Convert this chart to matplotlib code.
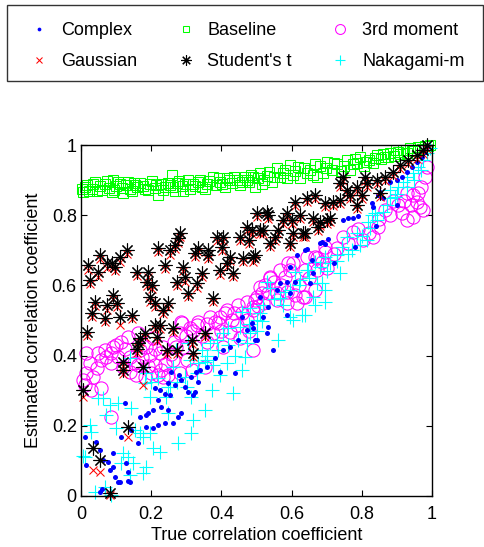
import matplotlib
matplotlib.use("Agg")
import matplotlib.pyplot as plt
from matplotlib.patches import Rectangle

plt.rcParams['font.family'] = ['Liberation Sans', 'DejaVu Sans']
plt.rcParams['font.size'] = 13

# estimates, grouped by estimator
complex_x = [0.011, 0.014, 0.043, 0.054, 0.054, 0.060, 0.063, 0.077, 0.083, 0.091,
             0.091, 0.097, 0.105, 0.110, 0.114, 0.125, 0.128, 0.134, 0.134, 0.140,
             0.142, 0.162, 0.168, 0.185, 0.185, 0.192, 0.205, 0.205, 0.211, 0.219,
             0.219, 0.225, 0.228, 0.239, 0.239, 0.248, 0.248, 0.254, 0.256, 0.262,
             0.268, 0.276, 0.279, 0.285, 0.285, 0.296, 0.305, 0.313, 0.319, 0.325,
             0.328, 0.333, 0.339, 0.359, 0.382, 0.396, 0.405, 0.424, 0.439, 0.447,
             0.459, 0.473, 0.487, 0.490, 0.496, 0.501, 0.510, 0.519, 0.530, 0.533,
             0.533, 0.547, 0.558, 0.567, 0.587, 0.587, 0.595, 0.595, 0.610, 0.615,
             0.638, 0.644, 0.652, 0.658, 0.661, 0.681, 0.687, 0.695, 0.704, 0.746,
             0.761, 0.775, 0.789, 0.829, 0.832, 0.846, 0.852, 0.860, 0.880, 0.900,
             0.915, 0.929, 0.943, 0.957, 0.971, 0.980, 0.986, 0.720, 0.780, 0.840,
             0.900]
complex_y = [0.168, 0.088, 0.154, 0.131, 0.011, 0.020, 0.103, 0.097, 0.074, 0.083,
             0.122, 0.054, 0.040, 0.040, 0.168, 0.265, 0.094, 0.068, 0.043, 0.040,
             0.188, 0.151, 0.225, 0.231, 0.197, 0.236, 0.245, 0.194, 0.308, 0.274,
             0.202, 0.302, 0.254, 0.208, 0.291, 0.245, 0.322, 0.288, 0.353, 0.208,
             0.316, 0.225, 0.345, 0.236, 0.330, 0.310, 0.296, 0.339, 0.288, 0.296,
             0.353, 0.325, 0.359, 0.368, 0.393, 0.353, 0.416, 0.424, 0.350, 0.444,
             0.510, 0.473, 0.493, 0.479, 0.444, 0.444, 0.567, 0.510, 0.464, 0.538,
             0.481, 0.416, 0.587, 0.607, 0.610, 0.516, 0.578, 0.652, 0.610, 0.687,
             0.700, 0.704, 0.607, 0.672, 0.635, 0.720, 0.724, 0.718, 0.732, 0.786,
             0.792, 0.792, 0.798, 0.835, 0.823, 0.858, 0.866, 0.850, 0.895, 0.900,
             0.909, 0.923, 0.937, 0.952, 0.966, 0.980, 0.994, 0.665, 0.710, 0.770,
             0.830]

baseline_x = [0.006, 0.010, 0.017, 0.030, 0.040, 0.045, 0.054, 0.068, 0.080, 0.088,
              0.091, 0.100, 0.111, 0.120, 0.128, 0.140, 0.150, 0.160, 0.177, 0.190,
              0.197, 0.210, 0.219, 0.228, 0.240, 0.254, 0.259, 0.268, 0.273, 0.287,
              0.296, 0.310, 0.319, 0.333, 0.345, 0.359, 0.376, 0.385, 0.396, 0.410,
              0.416, 0.430, 0.444, 0.453, 0.467, 0.480, 0.490, 0.496, 0.510, 0.520,
              0.530, 0.544, 0.558, 0.566, 0.575, 0.587, 0.595, 0.610, 0.624, 0.635,
              0.652, 0.661, 0.672, 0.681, 0.690, 0.700, 0.715, 0.729, 0.740, 0.758,
              0.766, 0.775, 0.786, 0.795, 0.806, 0.820, 0.832, 0.843, 0.855, 0.866,
              0.880, 0.892, 0.903, 0.917, 0.929, 0.937, 0.950, 0.960, 0.972, 0.980,
              0.994, 0.003, 0.022, 0.035, 0.060, 0.073, 0.095, 0.105, 0.118, 0.133,
              0.145, 0.155, 0.168, 0.183, 0.202, 0.215, 0.233, 0.247, 0.263, 0.280,
              0.292, 0.305, 0.326, 0.340, 0.352, 0.366, 0.392, 0.403, 0.423, 0.437,
              0.460, 0.474, 0.485, 0.503, 0.515, 0.537, 0.550, 0.580, 0.603, 0.617,
              0.645, 0.667, 0.697, 0.722, 0.750, 0.780, 0.812, 0.838, 0.860, 0.875,
              0.897, 0.910, 0.943, 0.966, 0.988]
baseline_y = [0.866, 0.880, 0.886, 0.875, 0.895, 0.870, 0.884, 0.888, 0.878, 0.866,
              0.900, 0.882, 0.889, 0.863, 0.885, 0.876, 0.892, 0.880, 0.884, 0.872,
              0.889, 0.878, 0.858, 0.888, 0.880, 0.886, 0.915, 0.870, 0.893, 0.882,
              0.890, 0.876, 0.889, 0.895, 0.880, 0.889, 0.909, 0.885, 0.895, 0.880,
              0.905, 0.892, 0.900, 0.885, 0.910, 0.896, 0.909, 0.880, 0.920, 0.900,
              0.912, 0.895, 0.934, 0.910, 0.920, 0.905, 0.943, 0.925, 0.906, 0.935,
              0.929, 0.915, 0.909, 0.940, 0.920, 0.952, 0.930, 0.945, 0.925, 0.957,
              0.929, 0.945, 0.950, 0.966, 0.940, 0.958, 0.950, 0.972, 0.960, 0.966,
              0.977, 0.968, 0.980, 0.986, 0.978, 0.991, 0.986, 0.993, 0.990, 0.996,
              1.000, 0.875, 0.870, 0.890, 0.872, 0.897, 0.872, 0.895, 0.878, 0.895,
              0.868, 0.885, 0.893, 0.875, 0.897, 0.885, 0.872, 0.893, 0.880, 0.897,
              0.870, 0.900, 0.884, 0.900, 0.875, 0.897, 0.905, 0.890, 0.900, 0.910,
              0.895, 0.900, 0.915, 0.905, 0.890, 0.922, 0.910, 0.930, 0.915, 0.938,
              0.920, 0.945, 0.935, 0.950, 0.940, 0.960, 0.952, 0.962, 0.975, 0.965,
              0.985, 0.975, 0.982, 0.995, 0.998]

moment_x = [0.011, 0.028, 0.057, 0.014, 0.026, 0.014, 0.048, 0.057, 0.068, 0.085,
            0.085, 0.091, 0.114, 0.140, 0.120, 0.140, 0.157, 0.162, 0.182, 0.199,
            0.219, 0.234, 0.248, 0.211, 0.240, 0.168, 0.185, 0.197, 0.225, 0.234,
            0.134, 0.162, 0.205, 0.271, 0.285, 0.085, 0.333, 0.310, 0.367, 0.390,
            0.410, 0.444, 0.453, 0.424, 0.473, 0.490, 0.376, 0.359, 0.291, 0.262,
            0.282, 0.288, 0.330, 0.382, 0.396, 0.416, 0.447, 0.473, 0.516, 0.538,
            0.558, 0.587, 0.610, 0.638, 0.604, 0.644, 0.672, 0.695, 0.430, 0.501,
            0.490, 0.316, 0.302, 0.353, 0.282, 0.405, 0.986, 0.980, 0.966, 0.974,
            0.957, 0.960, 0.946, 0.929, 0.903, 0.914, 0.946, 0.929, 0.866, 0.846,
            0.832, 0.803, 0.775, 0.746, 0.729, 0.695, 0.667, 0.687, 0.638, 0.590,
            0.595, 0.672, 0.567, 0.538, 0.510, 0.533, 0.519, 0.558, 0.587, 0.615,
            0.632, 0.667, 0.496, 0.490, 0.005, 0.035, 0.045, 0.070, 0.100, 0.105,
            0.125, 0.150, 0.175, 0.190, 0.210, 0.228, 0.255, 0.265, 0.300, 0.320,
            0.345, 0.360, 0.400, 0.435, 0.460, 0.480, 0.505, 0.525, 0.550, 0.570,
            0.580, 0.620, 0.650, 0.700, 0.720, 0.760, 0.790, 0.820, 0.850, 0.880,
            0.890, 0.920, 0.940, 0.970]
moment_y = [0.316, 0.302, 0.308, 0.350, 0.379, 0.407, 0.407, 0.387, 0.416, 0.407,
            0.379, 0.424, 0.439, 0.396, 0.368, 0.353, 0.345, 0.373, 0.339, 0.350,
            0.345, 0.339, 0.345, 0.373, 0.375, 0.416, 0.424, 0.402, 0.407, 0.424,
            0.453, 0.464, 0.450, 0.424, 0.496, 0.225, 0.496, 0.479, 0.510, 0.493,
            0.521, 0.487, 0.450, 0.467, 0.501, 0.538, 0.464, 0.439, 0.424, 0.387,
            0.464, 0.493, 0.487, 0.496, 0.510, 0.530, 0.544, 0.553, 0.578, 0.621,
            0.578, 0.581, 0.573, 0.567, 0.664, 0.681, 0.678, 0.695, 0.501, 0.567,
            0.416, 0.359, 0.387, 0.368, 0.350, 0.424, 0.937, 0.909, 0.823, 0.815,
            0.838, 0.863, 0.858, 0.863, 0.829, 0.806, 0.795, 0.786, 0.815, 0.766,
            0.738, 0.729, 0.752, 0.738, 0.707, 0.709, 0.681, 0.667, 0.644, 0.664,
            0.644, 0.644, 0.644, 0.624, 0.595, 0.578, 0.550, 0.558, 0.550, 0.550,
            0.567, 0.587, 0.558, 0.530, 0.330, 0.340, 0.365, 0.395, 0.430, 0.395,
            0.420, 0.380, 0.395, 0.370, 0.420, 0.360, 0.405, 0.440, 0.455, 0.470,
            0.455, 0.490, 0.470, 0.520, 0.520, 0.470, 0.540, 0.600, 0.610, 0.600,
            0.625, 0.600, 0.620, 0.650, 0.690, 0.720, 0.760, 0.750, 0.790, 0.800,
            0.840, 0.840, 0.830, 0.880]

student_x = [0.020, 0.026, 0.048, 0.054, 0.074, 0.088, 0.097, 0.111, 0.131, 0.160,
             0.191, 0.188, 0.202, 0.197, 0.211, 0.234, 0.248, 0.219, 0.239, 0.254,
             0.268, 0.276, 0.282, 0.273, 0.290, 0.296, 0.305, 0.325, 0.333, 0.330,
             0.345, 0.362, 0.362, 0.387, 0.405, 0.402, 0.396, 0.416, 0.424, 0.433,
             0.453, 0.462, 0.473, 0.487, 0.496, 0.501, 0.518, 0.530, 0.376, 0.040,
             0.091, 0.074, 0.103, 0.031, 0.111, 0.145, 0.017, 0.068, 0.120, 0.120,
             0.162, 0.168, 0.182, 0.177, 0.160, 0.210, 0.225, 0.216, 0.245, 0.262,
             0.273, 0.316, 0.319, 0.353, 0.006, 0.134, 0.034, 0.054, 0.083, 0.533,
             0.575, 0.587, 0.553, 0.510, 0.480, 0.538, 0.595, 0.632, 0.490, 0.560,
             0.601, 0.604, 0.610, 0.624, 0.638, 0.644, 0.661, 0.667, 0.675, 0.681,
             0.695, 0.700, 0.709, 0.718, 0.738, 0.738, 0.746, 0.758, 0.766, 0.786,
             0.786, 0.800, 0.809, 0.815, 0.843, 0.852, 0.866, 0.889, 0.909, 0.932,
             0.957, 0.974, 0.986]
student_y = [0.658, 0.615, 0.638, 0.687, 0.664, 0.664, 0.652, 0.681, 0.700, 0.638,
             0.638, 0.610, 0.601, 0.567, 0.550, 0.530, 0.550, 0.707, 0.658, 0.700,
             0.715, 0.735, 0.749, 0.610, 0.652, 0.624, 0.578, 0.692, 0.707, 0.607,
             0.635, 0.700, 0.687, 0.738, 0.738, 0.709, 0.644, 0.664, 0.681, 0.635,
             0.738, 0.678, 0.766, 0.758, 0.687, 0.806, 0.758, 0.809, 0.564, 0.553,
             0.573, 0.544, 0.550, 0.521, 0.510, 0.516, 0.467, 0.507, 0.382, 0.359,
             0.436, 0.450, 0.464, 0.368, 0.420, 0.487, 0.487, 0.453, 0.416, 0.478,
             0.416, 0.444, 0.407, 0.464, 0.302, 0.197, 0.137, 0.103, 0.008, 0.800,
             0.786, 0.806, 0.738, 0.758, 0.729, 0.720, 0.720, 0.749, 0.680, 0.758,
             0.786, 0.749, 0.838, 0.800, 0.749, 0.849, 0.792, 0.858, 0.766, 0.781,
             0.835, 0.786, 0.792, 0.838, 0.892, 0.843, 0.909, 0.872, 0.858, 0.880,
             0.829, 0.858, 0.909, 0.892, 0.900, 0.863, 0.909, 0.923, 0.943, 0.957,
             0.972, 0.986, 1.000]

# Gaussian estimates sit just under the Student's t ones (same true values)
gauss_x = student_x
gauss_y = [0.645, 0.603, 0.625, 0.676, 0.650, 0.653, 0.640, 0.668, 0.689, 0.626,
           0.625, 0.598, 0.590, 0.554, 0.538, 0.519, 0.537, 0.695, 0.646, 0.688,
           0.703, 0.722, 0.738, 0.598, 0.640, 0.611, 0.566, 0.680, 0.695, 0.594,
           0.623, 0.688, 0.674, 0.726, 0.727, 0.697, 0.631, 0.652, 0.669, 0.623,
           0.726, 0.666, 0.754, 0.746, 0.675, 0.794, 0.746, 0.797, 0.552, 0.541,
           0.561, 0.531, 0.538, 0.509, 0.487, 0.504, 0.455, 0.495, 0.370, 0.347,
           0.424, 0.438, 0.452, 0.316, 0.408, 0.475, 0.475, 0.441, 0.404, 0.466,
           0.404, 0.432, 0.395, 0.452, 0.282, 0.168, 0.074, 0.068, 0.004, 0.788,
           0.774, 0.794, 0.726, 0.746, 0.717, 0.708, 0.708, 0.737, 0.668, 0.746,
           0.774, 0.737, 0.826, 0.788, 0.737, 0.837, 0.780, 0.846, 0.754, 0.769,
           0.823, 0.774, 0.780, 0.826, 0.880, 0.831, 0.897, 0.860, 0.846, 0.868,
           0.817, 0.846, 0.897, 0.880, 0.888, 0.851, 0.897, 0.911, 0.931, 0.945,
           0.960, 0.974, 0.988]

naka_x = [0.011, 0.005, 0.028, 0.026, 0.040, 0.068, 0.085, 0.048, 0.063, 0.083,
          0.105, 0.071, 0.100, 0.142, 0.120, 0.134, 0.148, 0.114, 0.140, 0.177,
          0.185, 0.168, 0.154, 0.177, 0.197, 0.205, 0.225, 0.276, 0.313, 0.319,
          0.197, 0.242, 0.248, 0.262, 0.199, 0.185, 0.219, 0.248, 0.313, 0.305,
          0.271, 0.140, 0.433, 0.373, 0.353, 0.459, 0.416, 0.481, 0.500, 0.516,
          0.473, 0.447, 0.419, 0.359, 0.333, 0.310, 0.296, 0.273, 0.254, 0.182,
          0.561, 0.467, 0.604, 0.638, 0.667, 0.672, 0.695, 0.681, 0.644, 0.610,
          0.595, 0.567, 0.538, 0.519, 0.530, 0.501, 0.481, 0.459, 0.453, 0.405,
          0.387, 0.367, 0.390, 0.345, 0.353, 0.376, 0.396, 0.302, 0.687, 0.661,
          0.695, 0.630, 0.624, 0.647, 0.667, 0.709, 0.695, 0.729, 0.744, 0.772,
          0.795, 0.758, 0.786, 0.815, 0.823, 0.818, 0.843, 0.838, 0.872, 0.880,
          0.895, 0.880, 0.903, 0.917, 0.929, 0.946, 0.960, 0.974, 0.986, 0.994,
          0.575, 0.595, 0.738, 0.330, 0.360, 0.420, 0.440, 0.480, 0.510, 0.550,
          0.580, 0.620, 0.650, 0.700, 0.730, 0.760, 0.800, 0.830, 0.860, 0.900,
          0.930, 0.950, 0.970]
naka_y = [0.111, 0.115, 0.182, 0.202, 0.011, 0.026, 0.003, 0.279, 0.279, 0.259,
          0.265, 0.231, 0.194, 0.251, 0.122, 0.111, 0.094, 0.094, 0.060, 0.066,
          0.083, 0.179, 0.188, 0.168, 0.179, 0.137, 0.125, 0.151, 0.179, 0.217,
          0.282, 0.282, 0.236, 0.368, 0.325, 0.350, 0.335, 0.310, 0.282, 0.436,
          0.416, 0.393, 0.293, 0.302, 0.245, 0.359, 0.379, 0.464, 0.470, 0.500,
          0.436, 0.445, 0.479, 0.387, 0.379, 0.387, 0.339, 0.325, 0.310, 0.322,
          0.444, 0.396, 0.501, 0.516, 0.544, 0.607, 0.587, 0.652, 0.644, 0.638,
          0.587, 0.564, 0.593, 0.544, 0.610, 0.501, 0.536, 0.524, 0.481, 0.464,
          0.444, 0.436, 0.416, 0.416, 0.382, 0.373, 0.345, 0.310, 0.607, 0.567,
          0.553, 0.516, 0.615, 0.644, 0.667, 0.664, 0.681, 0.687, 0.709, 0.701,
          0.715, 0.738, 0.749, 0.729, 0.763, 0.781, 0.786, 0.806, 0.829, 0.849,
          0.852, 0.872, 0.880, 0.895, 0.909, 0.920, 0.937, 0.957, 0.977, 0.991,
          0.544, 0.510, 0.635, 0.350, 0.400, 0.430, 0.400, 0.490, 0.520, 0.560,
          0.580, 0.600, 0.620, 0.640, 0.670, 0.690, 0.740, 0.800, 0.810, 0.860,
          0.880, 0.900, 0.930]

ticks = [0, 0.2, 0.4, 0.6, 0.8, 1]
tick_labels = ['0', '0.2', '0.4', '0.6', '0.8', '1']

W, H = 484, 547
fig = plt.figure(figsize=(W / 100, H / 100), dpi=100)
ax = fig.add_axes([81 / W, 51 / H, 351 / W, 351 / H])

h_base, = ax.plot(baseline_x, baseline_y, ls='none', marker='s', ms=6.5,
                  mfc='none', mec=(0, 1, 0), mew=0.75, clip_on=False)
h_mom, = ax.plot(moment_x, moment_y, ls='none', marker='o', ms=9.5,
                 mfc='none', mec=(1, 0, 1), mew=0.75, clip_on=False)
h_naka, = ax.plot(naka_x, naka_y, ls='none', marker='+', ms=10,
                  mec=(0, 1, 1), mew=0.8, clip_on=False)
h_cplx, = ax.plot(complex_x, complex_y, ls='none', marker='o', ms=3.6,
                  mfc='b', mec='b', mew=0, clip_on=False)
h_gauss, = ax.plot(gauss_x, gauss_y, ls='none', marker='x', ms=6,
                   mec='r', mew=0.75, clip_on=False)
h_stud, = ax.plot(student_x, student_y, ls='none', marker=(8, 2, 0), ms=10,
                  mec='k', mew=0.8, clip_on=False)

ax.set_xlim(0, 1)
ax.set_ylim(0, 1)
ax.set_xticks(ticks)
ax.set_xticklabels(tick_labels)
ax.set_yticks(ticks)
ax.set_yticklabels(tick_labels)
ax.tick_params(direction='in', top=True, right=True, length=4, width=0.8)
ax.tick_params(axis='x', pad=7)
ax.tick_params(axis='y', pad=3)
for s in ax.spines.values():
    s.set_linewidth(1.0)
ax.set_xlabel('True correlation coefficient', labelpad=3)
ax.set_ylabel('Estimated correlation coefficient', labelpad=7)

# legend frame drawn separately so it can span the full width like the original
fig.patches.append(Rectangle((7 / W, 1 - 81 / H), 476 / W, 76 / H,
                             transform=fig.transFigure, fill=False,
                             edgecolor='#333333', linewidth=1.0))
fig.legend([h_cplx, h_gauss, h_base, h_stud, h_mom, h_naka],
           ['Complex', 'Gaussian', 'Baseline', "Student's t", '3rd moment', 'Nakagami-m'],
           ncol=3, loc='upper left', bbox_to_anchor=(30 / W, 1 - 22 / H),
           frameon=False, borderpad=0, borderaxespad=0, markerscale=0.75,
           handlelength=1.0, handletextpad=0.7, columnspacing=2.2,
           labelspacing=0.8, numpoints=1)

fig.savefig('out.png', dpi=100)
